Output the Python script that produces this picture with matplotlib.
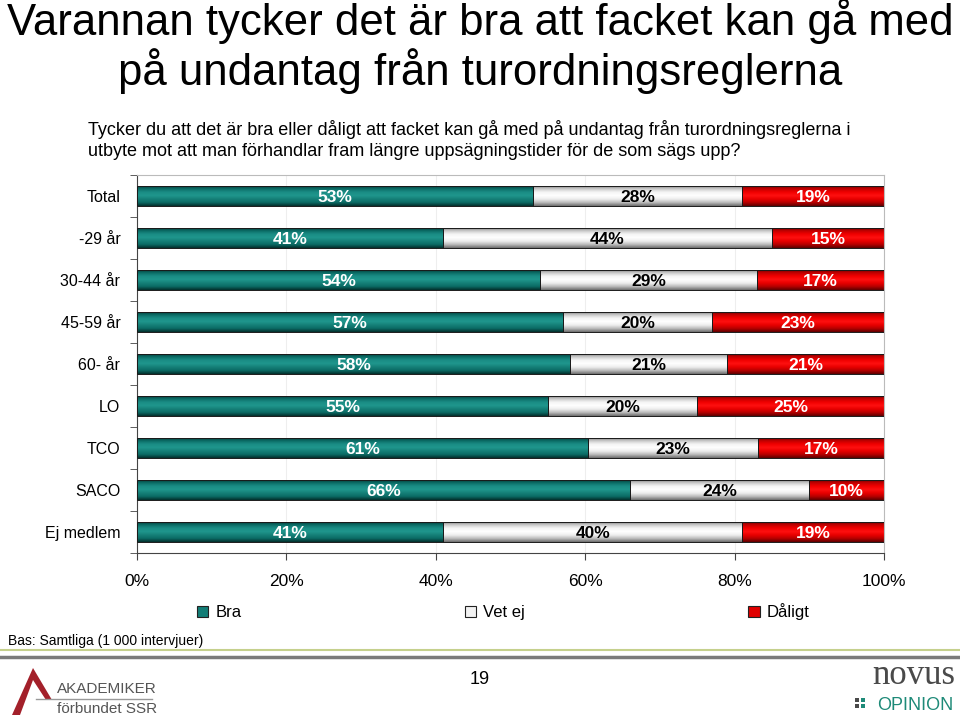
import numpy as np
import matplotlib
matplotlib.use('Agg')
import matplotlib.pyplot as plt
from matplotlib.colors import LinearSegmentedColormap
from matplotlib.patches import Rectangle, Polygon

plt.rcParams['font.family'] = ['Liberation Sans', 'DejaVu Sans']

# data
categories = ['Total', '-29 år', '30-44 år', '45-59 år', '60- år', 'LO', 'TCO', 'SACO', 'Ej medlem']
bra = [53, 41, 54, 57, 58, 55, 61, 66, 41]
vet_ej = [28, 44, 29, 20, 21, 20, 23, 24, 40]
daligt = [19, 15, 17, 23, 21, 25, 17, 10, 19]
series_names = ['Bra', 'Vet ej', 'Dåligt']
x_ticks = [0, 20, 40, 60, 80, 100]

base_colors = ['#137d76', '#f2f2f2', '#e00000']
grad_colors = [
    ['#03302d', '#0b6b65', '#1a8c84', '#1f968d', '#158078', '#0b6b65', '#03302d'],
    ['#6e6e6e', '#c8c8c8', '#f4f4f4', '#ffffff', '#eeeeee', '#bdbdbd', '#6e6e6e'],
    ['#600000', '#c00000', '#f00000', '#ff1010', '#e80000', '#b80000', '#600000'],
]
text_colors = ['white', 'black', 'white']

fig = plt.figure(figsize=(9.6, 7.18), dpi=100)
ax = fig.add_axes([137 / 960, 1 - 553 / 718, 747 / 960, 378 / 718])

values = np.array([bra, vet_ej, daligt], dtype=float)
totals = values.sum(axis=0)
pct = values / totals * 100
y = np.arange(len(categories))
left = np.zeros(len(categories))
bar_h = 0.49

for s in range(3):
    bars = ax.barh(y, pct[s], left=left, height=bar_h, color=base_colors[s],
                   edgecolor='none', label=series_names[s], zorder=2)
    cmap = LinearSegmentedColormap.from_list('g%d' % s, grad_colors[s])
    grad = np.linspace(0, 1, 64).reshape(-1, 1)
    for b in bars:
        x0, y0 = b.get_x(), b.get_y()
        w, h = b.get_width(), b.get_height()
        im = ax.imshow(grad, cmap=cmap, aspect='auto', zorder=2.5,
                       extent=[x0, x0 + w, y0 + h, y0], interpolation='bilinear')
        im.set_clip_path(b)
        outline = Rectangle((x0, y0), w, h, fill=False, edgecolor='#1a1a1a',
                            linewidth=0.7, zorder=3)
        ax.add_patch(outline)
    for i in range(len(categories)):
        ax.text(left[i] + pct[s][i] / 2, y[i] + 0.03, f'{int(values[s][i])}%',
                ha='center', va='center', fontsize=12.5, fontweight='bold',
                color=text_colors[s], zorder=4)
    left += pct[s]

ax.set_xlim(0, 100)
ax.set_ylim(len(categories) - 0.5, -0.5)
ax.set_xticks(x_ticks)
ax.set_xticklabels([f'{t}%' for t in x_ticks], fontsize=12.5)
ax.tick_params(axis='x', direction='out', length=5, pad=10, color='#444444')
ax.set_yticks(y)
ax.set_yticklabels(categories, fontsize=11.5)
ax.tick_params(axis='y', length=0, pad=12)
ax.set_yticks(np.arange(-0.5, len(categories), 1), minor=True)
ax.tick_params(axis='y', which='minor', direction='out', length=5, color='#444444')
ax.grid(axis='x', color='#eeeeee', linewidth=0.8, zorder=0)
ax.set_axisbelow(True)
for side in ['top', 'right']:
    ax.spines[side].set_color('#bbbbbb')
    ax.spines[side].set_linewidth(0.8)
for side in ['left', 'bottom']:
    ax.spines[side].set_color('#444444')

# legend
handles = [Rectangle((0, 0), 1, 1, facecolor=c, edgecolor='#222222', linewidth=0.8)
           for c in base_colors]
fig.legend(handles, series_names, loc='center', bbox_to_anchor=(503 / 960, 1 - 612 / 718),
           ncol=3, frameon=False, fontsize=12, handlelength=0.7, handleheight=0.7,
           handletextpad=0.4, columnspacing=13.4)

# titles
fig.text(0.5, 1 - 21 / 718, 'Varannan tycker det är bra att facket kan gå med',
         ha='center', va='center', fontsize=31.5)
fig.text(0.5, 1 - 71 / 718, 'på undantag från turordningsreglerna',
         ha='center', va='center', fontsize=31.5)
fig.text(88 / 960, 1 - 140 / 718,
         'Tycker du att det är bra eller dåligt att facket kan gå med på undantag från turordningsreglerna i\n'
         'utbyte mot att man förhandlar fram längre uppsägningstider för de som sägs upp?',
         ha='left', va='center', fontsize=13, linespacing=1.3)

# footer
fig.text(8 / 960, 1 - 641 / 718, 'Bas: Samtliga (1 000 intervjuer)', ha='left', va='center', fontsize=10)
fig.add_artist(plt.Line2D([0, 1], [1 - 650 / 718] * 2, color='#c5d08c', linewidth=1.5))
fig.add_artist(plt.Line2D([0, 1], [1 - 657 / 718] * 2, color='#7a7a7a', linewidth=2.5))
fig.text(0.5, 1 - 679 / 718, '19', ha='center', va='center', fontsize=13)

# logos (approximate)
fig.add_artist(Polygon([[12 / 960, 1 - 715 / 718], [33 / 960, 1 - 668 / 718], [52 / 960, 1 - 700 / 718],
                        [46 / 960, 1 - 700 / 718], [33 / 960, 1 - 680 / 718], [20 / 960, 1 - 715 / 718]],
                       closed=True, facecolor='#a3202a', edgecolor='none', transform=fig.transFigure))
fig.text(57 / 960, 1 - 689 / 718, 'AKADEMIKER', ha='left', va='center', fontsize=11, color='#555555')
fig.add_artist(plt.Line2D([36 / 960, 152 / 960], [1 - 699 / 718] * 2, color='#999999', linewidth=1))
fig.text(57 / 960, 1 - 709 / 718, 'förbundet SSR', ha='left', va='center', fontsize=11, color='#555555')
fig.text(955 / 960, 1 - 676 / 718, 'novus', ha='right', va='center', fontsize=25,
         family='Liberation Serif', color='#4a4a4a')
fig.text(953 / 960, 1 - 706 / 718, 'OPINION', ha='right', va='center', fontsize=13, color='#1e8a78')
for dx in range(2):
    for dy in range(2):
        fig.add_artist(Rectangle(((855 + dx * 6) / 960, 1 - (702 + dy * 6) / 718), 4 / 960, 4 / 718,
                                 facecolor='#1e8a78' if dx == 1 else '#4a4a4a', edgecolor='none',
                                 transform=fig.transFigure))

fig.savefig('out.png', dpi=100)
